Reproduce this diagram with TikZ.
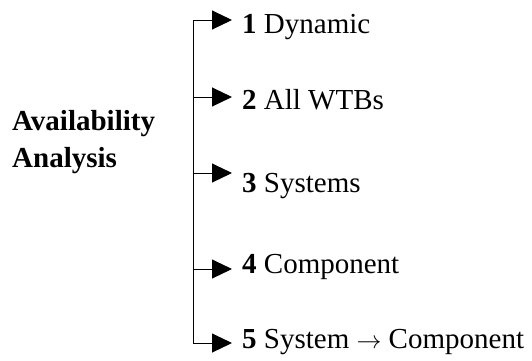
\documentclass[tikz,border=0pt]{standalone}
\usepackage{fontspec}
\setmainfont{Liberation Serif}
\usetikzlibrary{arrows.meta}

\tikzset{
  lbl/.style={anchor=base west, inner sep=0pt, font=\fontsize{29}{37}\selectfont},
  title/.style={anchor=base west, inner sep=0pt, align=left,
    font=\fontsize{29}{37}\selectfont\bfseries},
  spine/.style={line width=1pt, line cap=rect},
  branch/.style={line width=1pt, -{Triangle[length=20pt,width=19pt]}}
}

\begin{document}
\begin{tikzpicture}[x=1pt,y=-1pt]
  \useasboundingbox (0,0) rectangle (532,360);

  % heading on the left
  \node[title] (head) at (12,167) {Availability\\Analysis};

  % points on the vertical bar
  \coordinate (s1) at (193,20);
  \coordinate (s2) at (193,97);
  \coordinate (s3) at (193,173);
  \coordinate (s4) at (193,269);
  \coordinate (s5) at (193,343);

  % arrow tips
  \coordinate (t1) at (232,20);
  \coordinate (t2) at (232,97);
  \coordinate (t3) at (232,173);
  \coordinate (t4) at (232,269);
  \coordinate (t5) at (232,343);

  % branch labels
  \node[lbl] (n1) at (242,33)  {\textbf{1} Dynamic};
  \node[lbl] (n2) at (242,109) {\textbf{2} All WTBs};
  \node[lbl] (n3) at (242,192) {\textbf{3} Systems};
  \node[lbl] (n4) at (242,273) {\textbf{4} Component};
  \node[lbl] (n5) at (242,348) {\textbf{5} System $\rightarrow$ Component};

  % bar and branches
  \draw[spine] (s1) -- (s5);
  \foreach \i in {1,...,5}
    \draw[branch] (s\i) -- (t\i);
\end{tikzpicture}
\end{document}
